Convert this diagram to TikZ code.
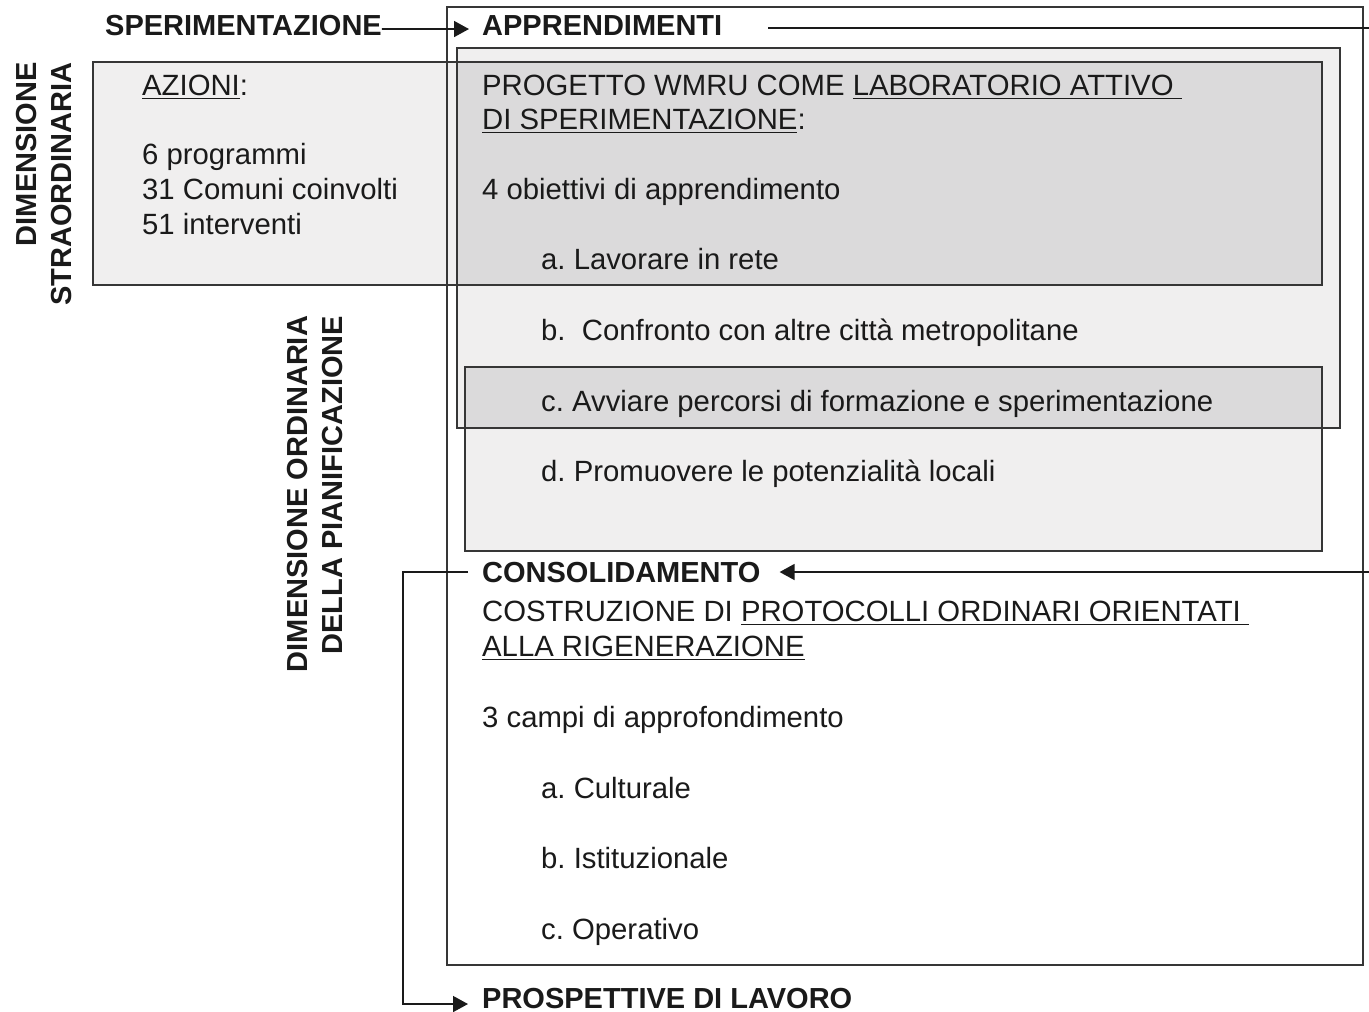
\documentclass[tikz,border=0pt]{standalone}
\usepackage{fontspec}
\setmainfont{Liberation Sans}
\usetikzlibrary{arrows.meta}
\frenchspacing

\definecolor{boxlight}{HTML}{F0EFEF}
\definecolor{boxdark}{HTML}{DBDADB}
\definecolor{edge}{HTML}{363636}
\definecolor{ink}{HTML}{1A1A1A}

\newcommand{\undl}[1]{\setbox0\hbox{#1}\rlap{\rule[-4pt]{\wd0}{1.4pt}}\box0}

\tikzset{
  txt/.style={anchor=base west, inner sep=0pt, text=ink, font=\fontsize{29.3}{35}\selectfont},
  head/.style={txt, font=\fontsize{29}{35}\selectfont\bfseries},
  side/.style={rotate=90, align=right, inner sep=0pt, text=ink, font=\fontsize{29}{35}\selectfont\bfseries},
  frame/.style={draw=edge, line width=1.5pt},
  link/.style={draw=ink, line width=1.6pt, -{Triangle[length=15pt,width=16pt]}},
}

\begin{document}
\begin{tikzpicture}[x=1pt,y=-1pt]
  \useasboundingbox (0,0) rectangle (1369,1012);
  \clip (0,0) rectangle (1369,1012);

  % fills
  \fill[boxlight] (93,62) rectangle (1322,285);
  \fill[boxlight] (457,48) rectangle (1340,428);
  \fill[boxlight] (465,367) rectangle (1322,551);
  \fill[boxdark] (457,62) rectangle (1322,285);
  \fill[boxdark] (465,367) rectangle (1322,428);

  % outlines
  \draw[frame] (447,7) rectangle (1363,965);
  \draw[frame] (93,62) rectangle (1322,285);
  \draw[frame] (457,48) rectangle (1340,428);
  \draw[frame] (465,367) rectangle (1322,551);

  % side labels
  \node[side] (straord) at (44,184) {DIMENSIONE\\STRAORDINARIA};
  \node[side] (ordin) at (315,494) {DIMENSIONE ORDINARIA\\DELLA PIANIFICAZIONE};

  % headings
  \node[head] (sper) at (105,35) {SPERIMENTAZIONE};
  \node[head] (appr) at (482,35) {APPRENDIMENTI};
  \node[head] (consol) at (482,582) {CONSOLIDAMENTO};
  \node[head] (prosp) at (482,1008) {PROSPETTIVE DI LAVORO};

  % azioni
  \node[txt] (az) at (142,95) {\undl{AZIONI}:};
  \node[txt] (az1) at (142,164) {6 programmi};
  \node[txt] (az2) at (142,199) {31 Comuni coinvolti};
  \node[txt] (az3) at (142,234) {51 interventi};

  % progetto
  \node[txt] (pg) at (482,95) {PROGETTO WMRU COME \undl{LABORATORIO ATTIVO\ }};
  \node[txt] (pg2) at (482,129) {\undl{DI SPERIMENTAZIONE}:};
  \node[txt] (ob) at (482,199) {4 obiettivi di apprendimento};
  \node[txt] (oba) at (541,269) {a. Lavorare in rete};
  \node[txt] (obb) at (541,340) {b.\ \ Confronto con altre città metropolitane};
  \node[txt] (obc) at (541,411) {c. Avviare percorsi di formazione e sperimentazione};
  \node[txt] (obd) at (541,481) {d. Promuovere le potenzialità locali};

  % costruzione
  \node[txt] (cs) at (482,621) {COSTRUZIONE DI \undl{PROTOCOLLI ORDINARI ORIENTATI\ }};
  \node[txt] (cs2) at (482,656) {\undl{ALLA RIGENERAZIONE}};
  \node[txt] (cp) at (482,727) {3 campi di approfondimento};
  \node[txt] (cpa) at (541,798) {a. Culturale};
  \node[txt] (cpb) at (541,868) {b. Istituzionale};
  \node[txt] (cpc) at (541,939) {c. Operativo};

  % connectors
  \draw[link] ([yshift=-4pt]sper.east) -- ([xshift=-13pt,yshift=-4pt]appr.west);
  \draw[link] ([xshift=46pt,yshift=-3pt]appr.east) -- ++(620,0) |- ([xshift=19pt]consol.east);
  \draw[link] ([xshift=-14pt]consol.west) -| ([xshift=-79pt,yshift=-6pt]prosp.west) -- ([xshift=-14pt,yshift=-6pt]prosp.west);
\end{tikzpicture}
\end{document}
